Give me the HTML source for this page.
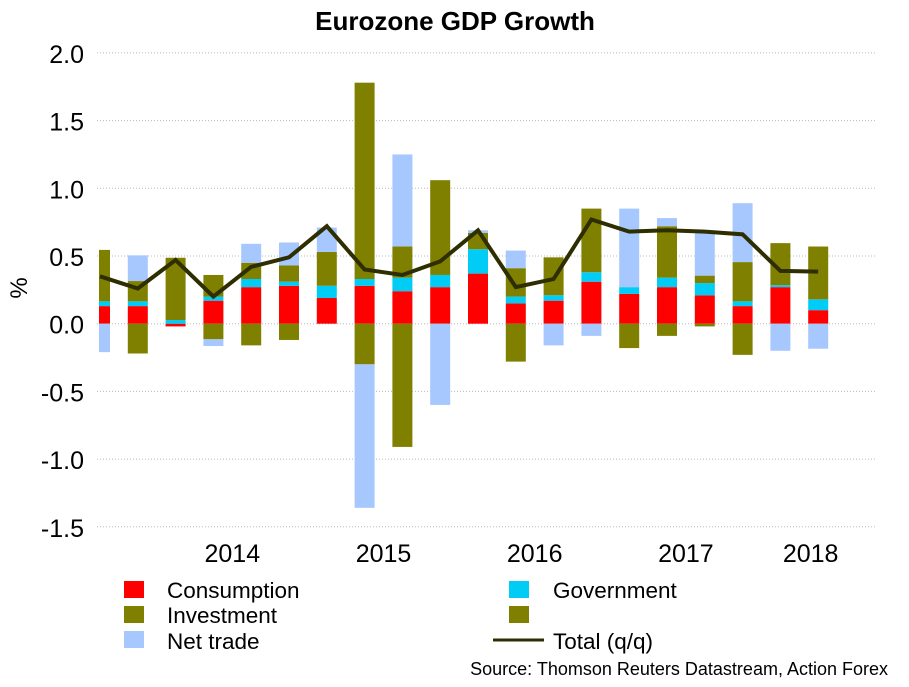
<!DOCTYPE html>
<html><head><meta charset="utf-8"><style>
body{margin:0;background:#fff;font-family:"Liberation Sans",Arial,sans-serif}
svg text{font-family:"Liberation Sans",Arial,sans-serif}
</style></head><body>
<svg id="chart" width="909" height="682" viewBox="0 0 909 682" xmlns="http://www.w3.org/2000/svg">
<rect width="909" height="682" fill="#fff"/>
<text x="455" y="30" text-anchor="middle" font-size="26" font-weight="bold">Eurozone GDP Growth</text>
<text transform="translate(27,288) rotate(-90)" text-anchor="middle" font-size="24">%</text>
<g id="grid"></g><g id="yticks"></g><g id="bars"></g><g id="xticks"></g>
<polyline id="total-line" fill="none" stroke="#2e2e00" stroke-width="4" stroke-linejoin="miter"/>
<g font-size="22.5">
<rect x="124" y="581" width="20" height="17" fill="#ff0000"/>
<text x="167" y="598">Consumption</text>
<rect x="124" y="606" width="20" height="17" fill="#7f8000"/>
<text x="167" y="623">Investment</text>
<rect x="124" y="631" width="20" height="17" fill="#a6c8ff"/>
<text x="167" y="649">Net trade</text>
<rect x="509" y="581" width="20" height="17" fill="#00ccf5"/>
<text x="553" y="598">Government</text>
<rect x="509" y="606" width="20" height="17" fill="#7f8000"/>
<line x1="493" y1="640" x2="544" y2="640" stroke="#2e2e00" stroke-width="3"/>
<text x="553" y="649">Total (q/q)</text>
</g>
<text x="888" y="675" text-anchor="end" font-size="18">Source: Thomson Reuters Datastream, Action Forex</text>
</svg>
<script>
const consumption=[0.13,0.13,-0.02,0.17,0.27,0.28,0.19,0.28,0.24,0.27,0.37,0.15,0.17,0.31,0.22,0.27,0.21,0.13,0.27,0.10];
const government=[0.035,0.035,0.027,0.03,0.06,0.03,0.09,0.05,0.10,0.09,0.18,0.05,0.04,0.07,0.05,0.07,0.09,0.035,0.015,0.08];
const investment=[0.38,0.15,0.46,0.16,0.12,0.12,0.25,1.45,0.23,0.70,0.12,0.21,0.28,0.47,-0.18,0.38,0.055,0.29,0.31,0.39];
const investmentNeg=[0,-0.22,0,-0.115,-0.16,-0.12,0,-0.30,-0.91,0,0,-0.28,0,0,0,-0.09,-0.02,-0.23,0,0];
const netTrade=[-0.21,0.19,0,-0.05,0.14,0.17,0.18,-1.06,0.68,-0.60,0.02,0.13,-0.16,-0.09,0.58,0.06,0.33,0.435,-0.20,-0.185];
const total=[0.35,0.26,0.47,0.20,0.42,0.49,0.72,0.40,0.36,0.46,0.69,0.27,0.33,0.77,0.68,0.69,0.68,0.66,0.39,0.385];
const yTicks=["2.0","1.5","1.0","0.5","0.0","-0.5","-1.0","-1.5"];
const xLabels=["2014","2015","2016","2017","2018"];
const xLabelIdx=[3.5,7.5,11.5,15.5,18.8];
const NS="http://www.w3.org/2000/svg";
const y=v=>323.7-v*135.4;
const x=i=>100+i*37.8;
const BW=20;
function mk(tag,attrs,parent){const e=document.createElementNS(NS,tag);for(const k in attrs)e.setAttribute(k,attrs[k]);parent.appendChild(e);return e;}
const grid=document.getElementById('grid'),yt=document.getElementById('yticks'),bars=document.getElementById('bars'),xt=document.getElementById('xticks');
yTicks.forEach(t=>{const v=parseFloat(t);
 const l=mk('line',{x1:97,x2:877,y1:y(v),y2:y(v),stroke:'#b8b8b8','stroke-width':1,'stroke-dasharray':'1,2'},grid);
 
 
 const tx=mk('text',{x:84,y:y(v)+10,'text-anchor':'end','font-size':25},yt);tx.textContent=t;
 
 
});
const colors={c:'#ff0000',g:'#00ccf5',i:'#7f8000',n:'#a6c8ff'};
for(let i=0;i<consumption.length;i++){
 let pos=0,neg=0;
 const segs=[['c',consumption[i]],['g',government[i]],['i',investment[i]],['i',investmentNeg[i]],['n',netTrade[i]]];
 segs.forEach(([k,v])=>{ if(!v)return; let a,b;
  if(v>0){a=pos;b=pos+v;pos=b;}else{a=neg;b=neg+v;neg=b;}
  const top=y(Math.max(a,b)),bot=y(Math.min(a,b));
  let x0=x(i)-BW/2,w=BW; if(x0<99){w-=99-x0;x0=99;}
  const r=mk('rect',{x:x0,y:top,width:w,height:bot-top,fill:colors[k]},bars);
  
  
 });
}
document.getElementById('total-line').setAttribute('points',total.map((v,i)=>x(i)+','+y(v)).join(' '));
xLabels.forEach((t,j)=>{const tx=mk('text',{x:x(xLabelIdx[j]),y:562,'text-anchor':'middle','font-size':25},xt);tx.textContent=t;
 
 });
</script>
</body></html>
